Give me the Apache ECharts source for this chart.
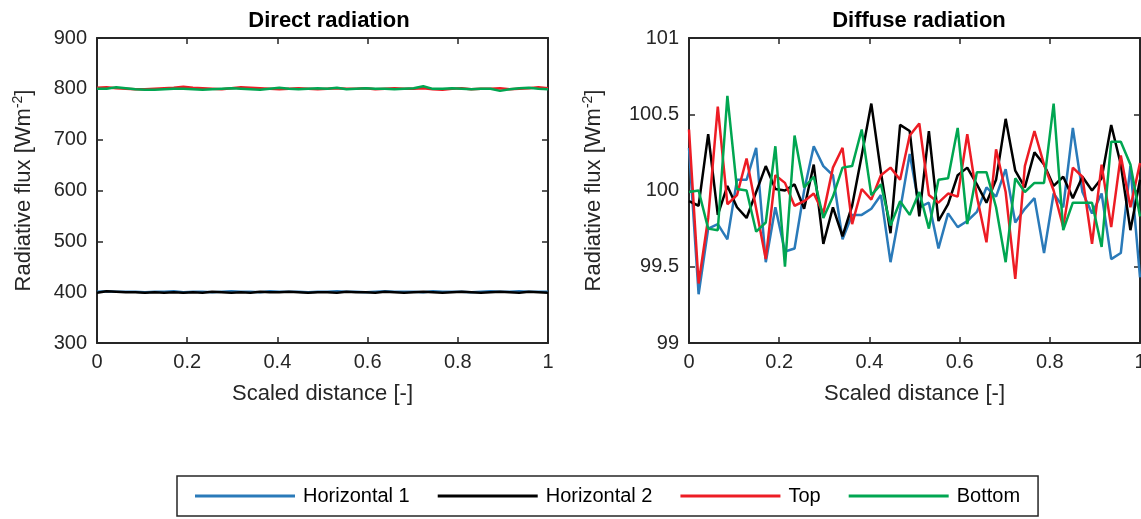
<!DOCTYPE html>
<html>
<head>
<meta charset="utf-8">
<script src="https://cdn.jsdelivr.net/npm/echarts@6/dist/echarts.min.js"></script>
<style>
  html, body { margin: 0; padding: 0; background: #fff; }
  #chart { width: 1141px; height: 519px; }
</style>
</head>
<body>
<div id="chart"></div>
<script>
// sampling points along the scaled distance (48 samples, 0..1)
const nPoints = 48;
const xs = [];
for (let i = 0; i < nPoints; i++) xs.push(i / (nPoints - 1));

const seriesNames = ['Horizontal 1', 'Horizontal 2', 'Top', 'Bottom'];
const colors = ['#2a7ab9', '#000000', '#ed1c24', '#00a651'];

// direct radiation [W m-2]
const directH1 = [401, 402, 401, 401, 401, 400, 401, 401, 402, 400, 401, 401, 400, 401, 402, 401, 401, 400, 402, 401, 401, 401, 400, 401, 401, 402, 401, 401, 400, 401, 402, 401, 401, 401, 400, 402, 401, 401, 401, 400, 401, 402, 401, 401, 402, 401, 401, 401];
const directH2 = [399, 402, 401, 400, 400, 399, 400, 399, 400, 399, 400, 399, 401, 400, 399, 400, 399, 401, 400, 400, 401, 400, 399, 400, 400, 399, 401, 400, 400, 399, 401, 400, 399, 400, 401, 400, 399, 400, 401, 400, 399, 400, 401, 400, 399, 401, 400, 399];
const directTop = [802, 803, 801, 800, 799, 799, 800, 801, 802, 804, 802, 801, 800, 799, 801, 803, 802, 801, 800, 799, 800, 801, 800, 799, 800, 801, 800, 800, 801, 799, 800, 801, 800, 800, 801, 799, 798, 800, 801, 799, 800, 800, 801, 799, 800, 801, 803, 801];
const directBottom = [800, 800, 803, 801, 799, 798, 798, 799, 800, 800, 799, 798, 799, 800, 801, 800, 799, 798, 800, 802, 800, 799, 800, 801, 800, 802, 799, 800, 801, 800, 800, 799, 800, 801, 805, 800, 800, 801, 800, 799, 800, 800, 796, 799, 801, 802, 800, 799];

// diffuse radiation [W m-2]
const diffuseH1 = [100.28, 99.32, 99.75, 99.78, 99.68, 100.07, 100.07, 100.28, 99.53, 99.89, 99.60, 99.62, 100.00, 100.29, 100.16, 100.10, 99.68, 99.84, 99.84, 99.88, 99.97, 99.53, 99.87, 100.24, 99.89, 99.92, 99.62, 99.85, 99.76, 99.80, 99.86, 100.02, 99.96, 100.14, 99.79, 99.88, 99.95, 99.59, 99.98, 99.89, 100.41, 99.99, 99.85, 99.98, 99.55, 99.59, 100.16, 99.43];
const diffuseH2 = [99.93, 99.90, 100.37, 99.84, 100.03, 99.89, 99.82, 99.99, 100.16, 100.01, 100.00, 100.04, 99.88, 100.17, 99.65, 99.89, 99.70, 99.90, 100.23, 100.57, 100.12, 99.72, 100.43, 100.39, 99.83, 100.39, 99.80, 99.91, 100.10, 100.15, 100.04, 99.92, 100.07, 100.47, 100.13, 100.02, 100.25, 100.17, 100.03, 100.09, 99.95, 100.09, 100.00, 100.08, 100.43, 100.17, 99.74, 100.07];
const diffuseTop = [100.40, 99.39, 99.82, 100.55, 99.91, 99.97, 100.21, 99.88, 99.55, 100.10, 100.05, 99.90, 99.93, 99.98, 99.85, 100.15, 100.28, 99.78, 100.01, 99.94, 100.10, 100.15, 100.07, 100.36, 100.44, 99.97, 99.92, 99.98, 99.96, 100.37, 99.96, 99.66, 100.27, 99.99, 99.42, 100.16, 100.39, 100.17, 100.00, 99.76, 100.15, 100.09, 99.65, 100.17, 99.76, 100.23, 99.89, 100.18];
const diffuseBottom = [99.99, 100.00, 99.75, 99.74, 100.62, 100.01, 100.00, 99.73, 99.79, 100.29, 99.50, 100.36, 100.02, 100.09, 99.82, 99.96, 100.15, 100.16, 100.40, 99.97, 100.04, 99.77, 99.93, 99.84, 99.99, 99.75, 100.07, 100.08, 100.41, 99.78, 100.12, 100.12, 99.89, 99.53, 100.08, 99.99, 100.05, 100.05, 100.57, 99.74, 99.92, 99.92, 99.92, 99.63, 100.32, 100.32, 100.17, 99.83];

const xTicks = { min: 0, max: 1, interval: 0.2 };
const directTicks = { min: 300, max: 900, interval: 100 };
const diffuseTicks = { min: 99, max: 101, interval: 0.5 };

const axisColor = '#262626';
const font = '"Liberation Sans", Arial, Helvetica, sans-serif';

function pairs(ys) {
  return ys.map((y, i) => [xs[i], y]);
}

function axisBase(grid, ticks) {
  return {
    type: 'value', gridIndex: grid, min: ticks.min, max: ticks.max, interval: ticks.interval,
    splitLine: { show: false },
    axisLine: { show: true, onZero: false, lineStyle: { color: axisColor, width: 2 } },
    axisTick: { show: true, inside: true, length: 6, lineStyle: { color: axisColor, width: 1.5 } }
  };
}

function xAxisPair(grid) {
  const base = axisBase(grid, xTicks);
  return [
    Object.assign({}, base, {
      position: 'bottom',
      name: 'Scaled distance [-]', nameLocation: 'middle', nameGap: 40,
      nameTextStyle: { color: axisColor, fontSize: 22, fontFamily: font },
      axisLabel: { color: axisColor, fontSize: 20, fontFamily: font, margin: 9 }
    }),
    Object.assign({}, base, { position: 'top', axisLabel: { show: false } })
  ];
}

function yAxisPair(grid, ticks, gap) {
  const base = axisBase(grid, ticks);
  return [
    Object.assign({}, base, {
      position: 'left',
      name: '{a|Radiative flux [Wm}{s|-2}{a|]}', nameLocation: 'middle', nameGap: gap,
      nameTextStyle: {
        color: axisColor, fontSize: 22, fontFamily: font,
        rich: {
          a: { fontSize: 22, fontFamily: font, color: axisColor, lineHeight: 26 },
          s: { fontSize: 14, fontFamily: font, color: axisColor, verticalAlign: 'top', lineHeight: 26 }
        }
      },
      axisLabel: { color: axisColor, fontSize: 20, fontFamily: font, margin: 10 }
    }),
    Object.assign({}, base, { position: 'right', axisLabel: { show: false } })
  ];
}

function lineSeries(name, color, xi, yi, ys) {
  return {
    name: name, type: 'line', xAxisIndex: xi, yAxisIndex: yi,
    data: pairs(ys), showSymbol: false, symbol: 'none',
    lineStyle: { color: color, width: 2.5 }, itemStyle: { color: color },
    animation: false
  };
}

const chart = echarts.init(document.getElementById('chart'), null, { renderer: 'canvas' });
chart.setOption({
  backgroundColor: '#ffffff',
  animation: false,
  title: [
    { text: 'Direct radiation', left: 324, top: 5, textAlign: 'center',
      textStyle: { fontSize: 22, fontWeight: 'bold', color: '#000', fontFamily: font } },
    { text: 'Diffuse radiation', left: 914, top: 5, textAlign: 'center',
      textStyle: { fontSize: 22, fontWeight: 'bold', color: '#000', fontFamily: font } }
  ],
  grid: [
    { left: 97, right: 593, top: 38, bottom: 176, outerBoundsMode: 'none' },
    { left: 689, right: 1, top: 38, bottom: 176, outerBoundsMode: 'none' }
  ],
  xAxis: xAxisPair(0).concat(xAxisPair(1)),
  yAxis: yAxisPair(0, directTicks, 60).concat(yAxisPair(1, diffuseTicks, 82)),
  legend: {
    data: seriesNames,
    left: 177, top: 476,
    padding: [10, 18, 10, 18],
    itemWidth: 100, itemHeight: 3, itemGap: 28,
    icon: 'rect',
    borderColor: axisColor, borderWidth: 1.5,
    textStyle: { color: '#000', fontSize: 20, fontFamily: font, padding: [0, 0, 0, 3] }
  },
  series: [
    lineSeries(seriesNames[0], colors[0], 0, 0, directH1),
    lineSeries(seriesNames[1], colors[1], 0, 0, directH2),
    lineSeries(seriesNames[2], colors[2], 0, 0, directTop),
    lineSeries(seriesNames[3], colors[3], 0, 0, directBottom),
    lineSeries(seriesNames[0], colors[0], 2, 2, diffuseH1),
    lineSeries(seriesNames[1], colors[1], 2, 2, diffuseH2),
    lineSeries(seriesNames[2], colors[2], 2, 2, diffuseTop),
    lineSeries(seriesNames[3], colors[3], 2, 2, diffuseBottom)
  ]
});
</script>
</body>
</html>
